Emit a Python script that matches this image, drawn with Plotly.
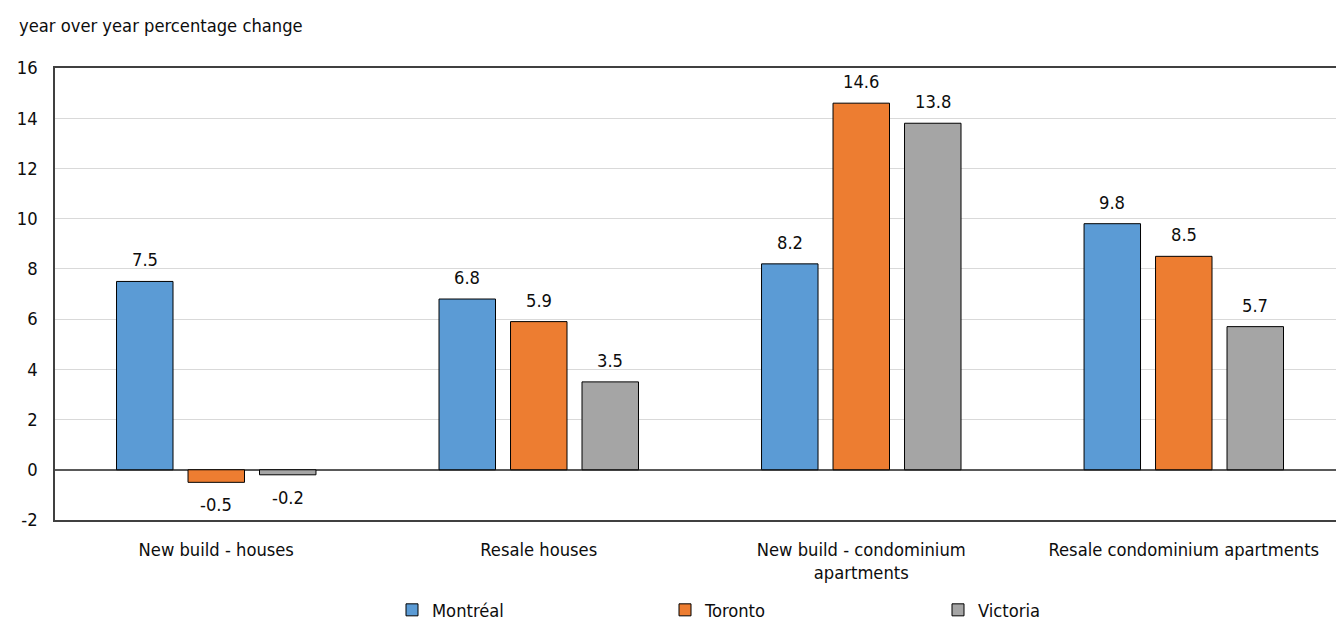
import plotly.graph_objects as go

# Year-over-year change in prices, by housing type and city
categories = [
    "New build - houses",
    "Resale houses",
    "New build - condominium<br>apartments",
    "Resale condominium apartments",
]
cities = ["Montréal", "Toronto", "Victoria"]
montreal = [7.5, 6.8, 8.2, 9.8]
toronto = [-0.5, 5.9, 14.6, 8.5]
victoria = [-0.2, 3.5, 13.8, 5.7]
series = [montreal, toronto, victoria]
colors = ["#5B9BD5", "#ED7D31", "#A5A5A5"]

y_ticks = [-2, 0, 2, 4, 6, 8, 10, 12, 14, 16]
y_ticktext = [str(t) for t in y_ticks]  # plain hyphen for negatives
y_title = "year over year percentage change"

FONT = "DejaVu Sans Condensed, Liberation Sans, sans-serif"
FS = 18.2
TXT = "#0d0d0d"

W, H = 1336, 622
ML, MT, MB = 55, 68, 102
PW, PH = W - ML, H - MT - MB

BARGAP = 0.335
BARGROUPGAP = 0.21
slot = (1 - BARGAP) / len(series)

fig = go.Figure()
for name, vals, col in zip(cities, series, colors):
    fig.add_trace(go.Bar(
        name=name,
        x=categories,
        y=vals,
        marker=dict(color=col, line=dict(color="#000000", width=1)),
        hoverinfo="x+y+name",
    ))

# Value labels above (or below) each bar
annotations = []
for j, vals in enumerate(series):
    for i, v in enumerate(vals):
        xpos = i + (j - (len(series) - 1) / 2) * slot
        annotations.append(dict(
            x=xpos, y=v, xref="x", yref="y",
            text=f"{v:.1f}", showarrow=False,
            font=dict(family=FONT, size=FS, color=TXT),
            yanchor="bottom" if v >= 0 else "top",
            yshift=9 if v >= 0 else -10,
        ))

# Axis title shown as a heading above the plot
annotations.append(dict(
    x=(17 - ML) / PW, xref="paper", xanchor="left",
    y=1 + (MT - 26) / PH, yref="paper", yanchor="middle",
    text=y_title, showarrow=False,
    font=dict(family=FONT, size=FS, color=TXT),
))

fig.update_layout(
    width=W, height=H,
    margin=dict(l=ML, r=0, t=MT, b=MB, autoexpand=False),
    paper_bgcolor="white", plot_bgcolor="white",
    barmode="group", bargap=BARGAP, bargroupgap=BARGROUPGAP,
    font=dict(family=FONT, size=FS, color=TXT),
    showlegend=True,
    legend=dict(
        orientation="h",
        x=(392 - ML) / PW, xanchor="left",
        yref="container", y=(H - 610) / H, yanchor="middle",
        entrywidth=228, entrywidthmode="pixels",
        font=dict(family=FONT, size=FS, color=TXT),
        bgcolor="rgba(0,0,0,0)",
    ),
    annotations=annotations,
)

fig.update_xaxes(
    range=[-0.5, 3.472],
    showline=True, mirror=True, linecolor="#404040", linewidth=1.5,
    showgrid=False, ticks="", ticklabelstandoff=12,
    tickfont=dict(family=FONT, size=FS, color=TXT),
)
fig.update_yaxes(
    range=[-2, 16], tickvals=y_ticks, ticktext=y_ticktext,
    showline=True, linecolor="#404040", linewidth=1.5,
    showgrid=True, gridcolor="#D9D9D9", gridwidth=1,
    zeroline=True, zerolinecolor="#595959", zerolinewidth=1.5,
    ticks="", ticklabelstandoff=12,
    tickfont=dict(family=FONT, size=FS, color=TXT),
)

fig.write_html("out.html")
